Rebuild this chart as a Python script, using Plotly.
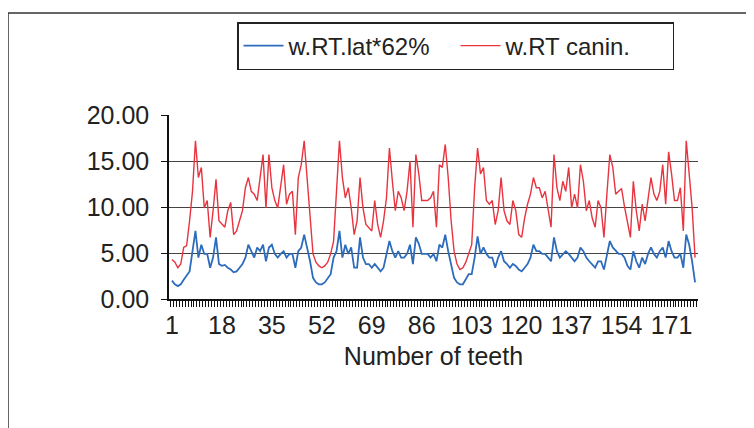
import plotly.graph_objects as go

# ---- data ----
teeth = list(range(1, 180))

lat62 = [2.0, 1.6, 1.4, 1.6, 2.1, 2.5, 3.0, 5.2, 7.4, 4.5,
         5.9, 4.9, 4.9, 3.4, 4.5, 6.7, 3.8, 3.6, 3.7, 3.4,
         3.2, 2.9, 3.0, 3.4, 3.8, 4.5, 5.9, 5.2, 4.5, 5.6,
         5.2, 5.9, 4.1, 5.6, 5.9, 4.9, 4.5, 4.9, 5.2, 4.5,
         4.9, 4.9, 3.4, 5.2, 5.6, 7.0, 5.6, 4.1, 2.3, 1.8,
         1.6, 1.6, 1.8, 2.3, 2.7, 4.5, 5.2, 7.4, 4.5, 5.9,
         4.9, 5.6, 3.4, 3.4, 6.7, 4.5, 3.8, 3.8, 3.4, 3.8,
         3.4, 3.0, 3.4, 4.9, 6.3, 5.2, 4.5, 5.2, 4.5, 4.5,
         4.9, 5.9, 3.8, 6.7, 6.0, 4.9, 4.9, 4.9, 4.5, 4.9,
         4.1, 5.9, 5.6, 7.0, 5.2, 3.8, 2.3, 1.8, 1.6, 1.6,
         2.1, 2.7, 2.7, 4.5, 6.8, 4.9, 5.6, 4.9, 4.5, 4.5,
         3.4, 4.5, 5.2, 4.1, 3.8, 3.4, 3.8, 3.6, 3.2, 3.0,
         3.4, 3.8, 4.5, 5.9, 5.2, 5.2, 4.9, 4.9, 4.5, 4.1,
         6.7, 5.2, 4.5, 4.9, 5.2, 4.9, 4.5, 4.1, 4.5, 5.6,
         5.2, 4.5, 4.1, 3.8, 3.4, 4.1, 4.1, 3.2, 4.9, 6.3,
         5.6, 5.2, 4.9, 4.9, 4.5, 3.6, 3.2, 5.2, 4.1, 3.4,
         4.5, 3.8, 4.9, 5.6, 4.9, 4.5, 5.2, 5.6, 4.5, 6.3,
         5.2, 4.5, 4.5, 4.9, 3.4, 7.0, 5.9, 4.1, 1.8]

canin = [4.3, 4.0, 3.4, 3.8, 5.6, 5.8, 8.5, 11.7, 17.2, 13.2,
         14.3, 9.9, 10.7, 6.7, 9.6, 13.0, 8.5, 8.1, 7.8, 9.6,
         10.5, 7.0, 7.4, 8.5, 9.6, 12.1, 13.2, 11.7, 11.4, 10.7,
         13.2, 15.7, 9.9, 15.7, 12.1, 10.7, 9.9, 12.1, 14.6, 10.3,
         11.4, 11.7, 7.0, 13.2, 14.6, 17.2, 13.2, 8.5, 4.9, 4.0,
         3.6, 3.4, 3.6, 4.0, 4.9, 6.3, 11.4, 17.2, 13.2, 11.0,
         12.1, 9.9, 7.0, 8.5, 13.2, 9.9, 8.1, 7.8, 7.4, 10.7,
         8.1, 6.7, 8.5, 11.0, 16.4, 12.8, 9.6, 11.7, 11.0, 9.6,
         11.7, 15.0, 7.8, 15.7, 13.6, 10.7, 10.7, 10.7, 11.0, 11.7,
         7.8, 14.6, 14.3, 16.8, 13.2, 8.5, 5.2, 3.8, 3.2, 3.4,
         4.0, 4.9, 5.9, 12.1, 16.4, 13.6, 14.3, 10.7, 10.3, 10.7,
         8.1, 9.6, 13.2, 9.6, 8.5, 8.1, 10.7, 9.6, 7.0, 6.7,
         8.8, 10.3, 11.4, 13.2, 12.1, 12.1, 11.0, 11.7, 9.6, 7.8,
         15.7, 12.1, 10.7, 12.8, 11.7, 14.3, 9.9, 11.4, 9.9, 14.6,
         12.8, 9.6, 10.7, 8.8, 7.8, 10.7, 9.9, 6.7, 11.4, 15.7,
         14.3, 11.4, 11.7, 12.0, 10.0, 8.5, 6.7, 12.8, 9.6, 7.4,
         10.3, 8.5, 11.0, 13.2, 11.4, 10.7, 11.7, 14.6, 10.3, 16.0,
         13.6, 10.7, 10.7, 12.1, 7.4, 17.2, 13.6, 9.9, 4.5]

x_ticks = [1, 18, 35, 52, 69, 86, 103, 120, 137, 154, 171]
y_ticks = [0, 5, 10, 15, 20]

FONT = "Liberation Sans, Arial, sans-serif"

fig = go.Figure()
fig.add_trace(go.Scatter(x=teeth, y=lat62, mode="lines", name="w.RT.lat*62%",
                         line=dict(color="#2d6cbd", width=1.8)))
fig.add_trace(go.Scatter(x=teeth, y=canin, mode="lines", name="w.RT canin.",
                         line=dict(color="#e8343f", width=1.4)))

L, R, T, B = 161, 64, 107, 137
W, H = 754, 428
pw, ph = W - L - R, H - T - B
n = len(teeth)

fig.update_layout(
    width=W, height=H,
    margin=dict(l=L, r=R, t=T, b=B),
    paper_bgcolor="white", plot_bgcolor="white",
    font=dict(family=FONT, size=25, color="#222"),
    showlegend=True,
    legend=dict(orientation="h", x=(229 - L) / pw, y=(H - B - 14) / ph,
                xanchor="left", yanchor="top",
                bordercolor="#222", borderwidth=1.5, bgcolor="white",
                font=dict(size=24, family=FONT, color="#222"),
                itemwidth=40, tracegroupgap=0, entrywidth=162),
    xaxis=dict(range=[0, n + 1], tickmode="array",
               tickvals=x_ticks, ticktext=[str(v) for v in x_ticks],
               ticks="", showgrid=False, zeroline=False,
               showline=True, linecolor="#111", linewidth=1.5,
               tickfont=dict(size=25), ticklabelstandoff=3,
               minor=dict(ticks="outside", tickmode="array",
                          tickvals=[k + 0.5 for k in range(0, n + 1)],
                          ticklen=6, tickcolor="#111", tickwidth=1, showgrid=False),
               title=dict(text="Number of teeth", font=dict(size=25), standoff=10)),
    yaxis=dict(range=[0, 20], tickmode="array", tickvals=y_ticks,
               ticktext=[f"{v:.2f}" for v in y_ticks],
               showgrid=True, gridcolor="#444", gridwidth=1.3,
               zeroline=False, showline=True, linecolor="#111", linewidth=1.5,
               ticks="outside", ticklen=6, tickcolor="#111",
               tickfont=dict(size=25), ticklabelstandoff=7),
)

# outer chart border
fig.add_shape(type="rect", xref="paper", yref="paper",
              x0=(0 - L) / pw, x1=(760 - L) / pw,
              y0=(H - B - 440) / ph, y1=(H - B - 5) / ph,
              line=dict(color="#333", width=1.5), fillcolor="rgba(0,0,0,0)", layer="below")

fig.write_html("out.html")
